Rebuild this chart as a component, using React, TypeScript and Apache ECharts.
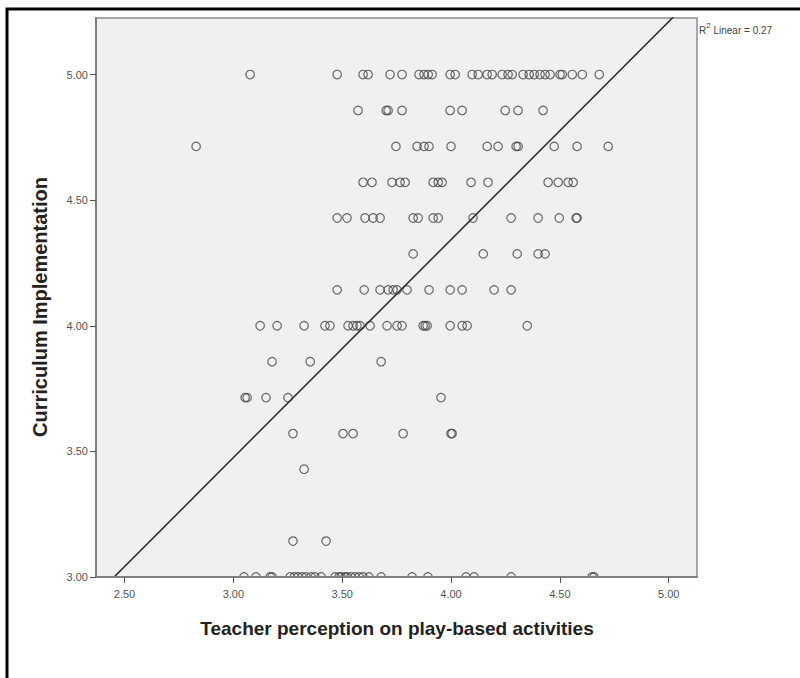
import React, { useEffect, useRef } from "react";
import * as echarts from "echarts";

// Curriculum implementation levels (y) and the teacher-perception scores (x) read at each level
const yLevels = [5.0, 4.857, 4.714, 4.571, 4.429, 4.286, 4.143, 4.0, 3.857, 3.714, 3.571, 3.429, 3.143, 3.0];

const xAt500 = [3.077, 3.477, 3.596, 3.619, 3.72, 3.775, 3.853, 3.876, 3.895, 3.913, 3.996, 4.019, 4.097, 4.125, 4.166, 4.189, 4.235, 4.262, 4.281, 4.331, 4.359, 4.382, 4.409, 4.432, 4.455, 4.501, 4.511, 4.557, 4.603, 4.681];
const xAt486 = [3.573, 3.702, 3.711, 3.775, 3.996, 4.051, 4.249, 4.308, 4.423];
const xAt471 = [2.829, 3.747, 3.844, 3.876, 3.899, 4.0, 4.166, 4.216, 4.299, 4.308, 4.474, 4.579, 4.722];
const xAt457 = [3.596, 3.637, 3.729, 3.766, 3.789, 3.918, 3.941, 3.959, 4.092, 4.17, 4.446, 4.492, 4.538, 4.561];
const xAt443 = [3.477, 3.522, 3.605, 3.642, 3.674, 3.826, 3.849, 3.918, 3.941, 4.101, 4.276, 4.4, 4.497, 4.575, 4.579];
const xAt429 = [3.826, 4.148, 4.304, 4.4, 4.432];
const xAt414 = [3.477, 3.601, 3.674, 3.711, 3.734, 3.752, 3.798, 3.899, 3.996, 4.051, 4.198, 4.276];
const xAt400 = [3.123, 3.201, 3.325, 3.421, 3.444, 3.527, 3.55, 3.568, 3.582, 3.628, 3.706, 3.752, 3.775, 3.872, 3.881, 3.89, 3.996, 4.051, 4.074, 4.35];
const xAt386 = [3.178, 3.353, 3.679];
const xAt371 = [3.054, 3.063, 3.15, 3.251, 3.954];
const xAt357 = [3.274, 3.504, 3.55, 3.78, 4.0, 4.005];
const xAt343 = [3.325];
const xAt314 = [3.274, 3.426];
const xAt300 = [3.049, 3.104, 3.169, 3.178, 3.261, 3.28, 3.297, 3.316, 3.334, 3.357, 3.375, 3.403, 3.467, 3.485, 3.495, 3.513, 3.522, 3.54, 3.559, 3.578, 3.596, 3.623, 3.679, 3.821, 3.894, 4.069, 4.106, 4.276, 4.648, 4.657];

const rows = [xAt500, xAt486, xAt471, xAt457, xAt443, xAt429, xAt414, xAt400, xAt386, xAt371, xAt357, xAt343, xAt314, xAt300];

const xTicks = [2.5, 3.0, 3.5, 4.0, 4.5, 5.0];
const yTicks = [3.0, 3.5, 4.0, 4.5, 5.0];

// Linear fit
const fitIntercept = 0.872;
const fitSlope = 0.8677;
const rSquared = "0.27";

const xTitle = "Teacher perception on play-based activities";
const yTitle = "Curriculum Implementation";

const FONT = "'Liberation Sans', Arial, sans-serif";

export default function App() {
  const ref = useRef<HTMLDivElement>(null);

  useEffect(() => {
    const chart = echarts.init(ref.current!, null, { renderer: "svg" });
    const points: number[][] = [];
    yLevels.forEach((y, i) => rows[i].forEach((x) => points.push([x, y])));

    const xMin = 2.369;
    const xMax = 5.13;
    const yMin = 3.0;
    const yMax = 5.225;
    const fit = [
      [xMin, fitIntercept + fitSlope * xMin],
      [xMax, fitIntercept + fitSlope * xMax],
    ];

    chart.setOption({
      animation: false,
      backgroundColor: "#ffffff",
      grid: {
        left: 96,
        right: 103,
        top: 18,
        bottom: 101,
        show: true,
        backgroundColor: "#f0f0f0",
        borderColor: "#a8a8a8",
        borderWidth: 2,
      },
      xAxis: {
        type: "value",
        min: xMin,
        max: xMax,
        z: 10,
        splitLine: { show: false },
        axisLine: { show: true, onZero: false, lineStyle: { color: "#808080", width: 2 } },
        axisTick: { show: true, length: 6, customValues: xTicks, lineStyle: { color: "#555", width: 1 } },
        axisLabel: {
          customValues: xTicks,
          formatter: (v: number) => v.toFixed(2),
          color: "#555",
          fontSize: 11,
          fontFamily: FONT,
          margin: 11,
        },
      },
      yAxis: {
        type: "value",
        min: yMin,
        max: yMax,
        z: 10,
        splitLine: { show: false },
        axisLine: { show: true, onZero: false, lineStyle: { color: "#808080", width: 2 } },
        axisTick: { show: true, length: 6, customValues: yTicks, lineStyle: { color: "#555", width: 1 } },
        axisLabel: {
          customValues: yTicks,
          formatter: (v: number) => v.toFixed(2),
          color: "#555",
          fontSize: 11,
          fontFamily: FONT,
          margin: 8,
        },
      },
      series: [
        {
          type: "scatter",
          data: points,
          symbol: "circle",
          symbolSize: 8.5,
          z: 2,
          itemStyle: { color: "rgba(0,0,0,0)", borderColor: "#444", borderWidth: 1.2 },
        },
        {
          type: "line",
          data: fit,
          clip: true,
          symbol: "none",
          z: 3,
          lineStyle: { color: "#333", width: 1.6 },
        },
      ],
      graphic: [
        {
          type: "rect",
          z: 5,
          silent: true,
          shape: { x: 92, y: 578, width: 612, height: 10 },
          style: { fill: "#ffffff" },
        },
        {
          type: "rect",
          z: 20,
          silent: true,
          shape: { x: 7, y: 9, width: 1000, height: 1000 },
          style: { fill: "none", stroke: "#000", lineWidth: 3 },
        },
        {
          type: "text",
          z: 20,
          x: 397,
          y: 628,
          style: {
            text: xTitle,
            fill: "#222",
            font: `bold 19px ${FONT}`,
            textAlign: "center",
            textVerticalAlign: "middle",
          },
        },
        {
          type: "text",
          z: 20,
          x: 40,
          y: 307,
          rotation: Math.PI / 2,
          style: {
            text: yTitle,
            fill: "#222",
            font: `bold 20px ${FONT}`,
            textAlign: "center",
            textVerticalAlign: "middle",
          },
        },
        {
          type: "text",
          z: 20,
          x: 699,
          y: 28,
          style: {
            text: "{a|R}{s|2}{a| Linear = " + rSquared + "}",
            textVerticalAlign: "middle",
            rich: {
              a: { fontSize: 10, fontFamily: FONT, fill: "#444", lineHeight: 14, verticalAlign: "bottom" },
              s: { fontSize: 8, fontFamily: FONT, fill: "#444", lineHeight: 14, verticalAlign: "top" },
            },
          },
        },
      ],
    });

    return () => chart.dispose();
  }, []);

  return (
    <div
      ref={ref}
      style={{ position: "fixed", left: 0, top: 0, width: 800, height: 678, background: "#fff" }}
    />
  );
}
